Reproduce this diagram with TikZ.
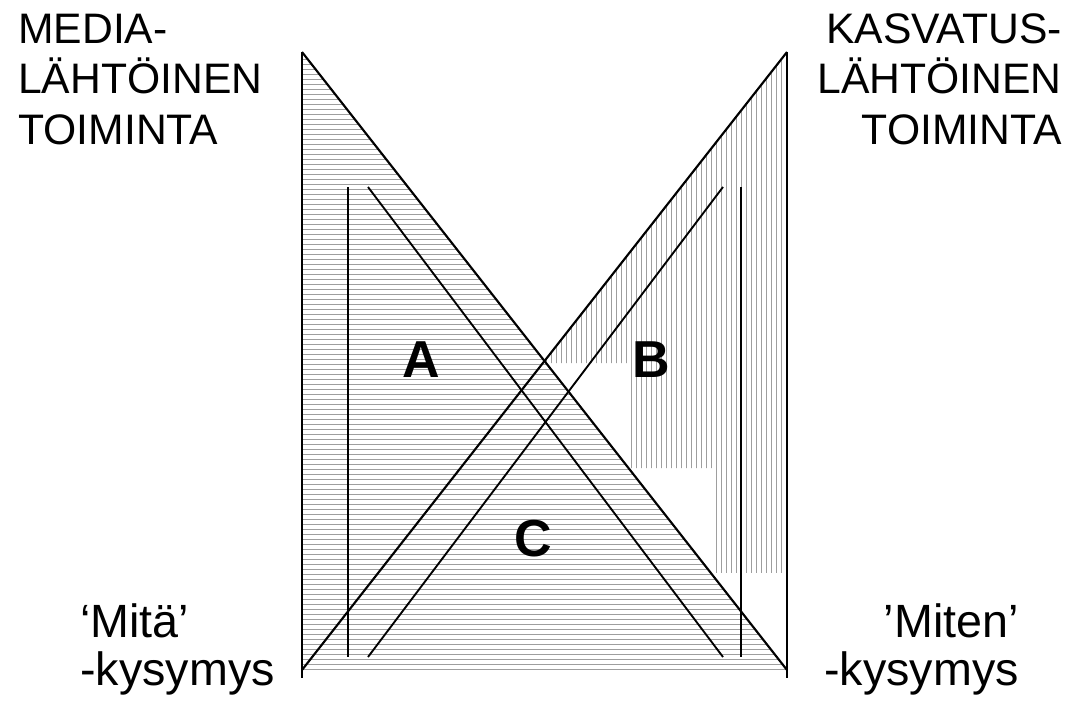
\documentclass[tikz,border=0pt]{standalone}
\usepackage{fontspec}
\setmainfont{Liberation Sans}
\begin{document}
\begin{tikzpicture}[x=0.75pt,y=-0.75pt,
  outer/.style={line width=1.6pt},
  innerl/.style={line width=1.4pt},
  hatch/.style={black!38, line width=0.7pt},
  lbl/.style={inner sep=0pt, font=\fontsize{32}{38}\selectfont},
  qlbl/.style={inner sep=0pt, font=\fontsize{35}{42}\selectfont},
  big/.style={inner sep=0pt, font=\fontsize{39}{46}\selectfont\bfseries}]
\useasboundingbox (0,0) rectangle (1068,707);
% outer frame points
\coordinate (TL) at (302,52);
\coordinate (TR) at (787,52);
\coordinate (BLd) at (302,670);
\coordinate (BRd) at (787,670);
\coordinate (BLv) at (302,678);
\coordinate (BRv) at (787,678);
% hatching of the left triangle (horizontal)
\begin{scope}
  \clip (TL) -- (BLd) -- (BRd) -- cycle;
  \foreach \y in {54,59,...,669} \draw[hatch] (302,\y) -- (787,\y);
\end{scope}
% hatching of the right triangle (vertical, stepped)
\begin{scope}
  \clip (TR) -- (545,360) -- (545,363) -- (631,363) -- (631,468) -- (713,468) -- (713,573) -- (787,573) -- cycle;
  \foreach \x in {546,551,...,786} \draw[hatch] (\x,52) -- (\x,573);
\end{scope}
% outer lines
\draw[outer] (TL) -- (BLv);
\draw[outer] (TR) -- (BRv);
\draw[outer] (TL) -- (BRd);
\draw[outer] (BLd) -- (TR);
% inner lines
\coordinate (i1) at (348,187);
\coordinate (i2) at (348,657);
\coordinate (i3) at (368,187);
\coordinate (i4) at (723,657);
\coordinate (i5) at (368,657);
\coordinate (i6) at (723,187);
\coordinate (i7) at (741,187);
\coordinate (i8) at (741,657);
\draw[innerl] (i1) -- (i2);
\draw[innerl] (i3) -- (i4);
\draw[innerl] (i5) -- (i6);
\draw[innerl] (i7) -- (i8);
% region letters
\node[big, anchor=base] (A) at (421.5,377) {A};
\node[big, anchor=base] (B) at (651,377) {B};
\node[big, anchor=base] (C) at (533.5,556) {C};
% top-left label
\node[lbl, anchor=base west] (m1) at (18,43) {MEDIA-};
\node[lbl, anchor=base west] (m2) at (18,93) {LÄHTÖINEN};
\node[lbl, anchor=base west] (m3) at (18,144) {TOIMINTA};
% top-right label
\node[lbl, anchor=base east] (k1) at (1062,43) {KASVATUS-};
\node[lbl, anchor=base east] (k2) at (1062,93) {LÄHTÖINEN};
\node[lbl, anchor=base east] (k3) at (1062,144) {TOIMINTA};
% bottom labels
\node[qlbl, anchor=base west] (q1) at (80,637) {‘Mitä’};
\node[qlbl, anchor=base west] (q2) at (80,685) {-kysymys};
\node[qlbl, anchor=base east] (q3) at (1019,637) {’Miten’};
\node[qlbl, anchor=base east] (q4) at (1019,685) {-kysymys};
\end{tikzpicture}
\end{document}
